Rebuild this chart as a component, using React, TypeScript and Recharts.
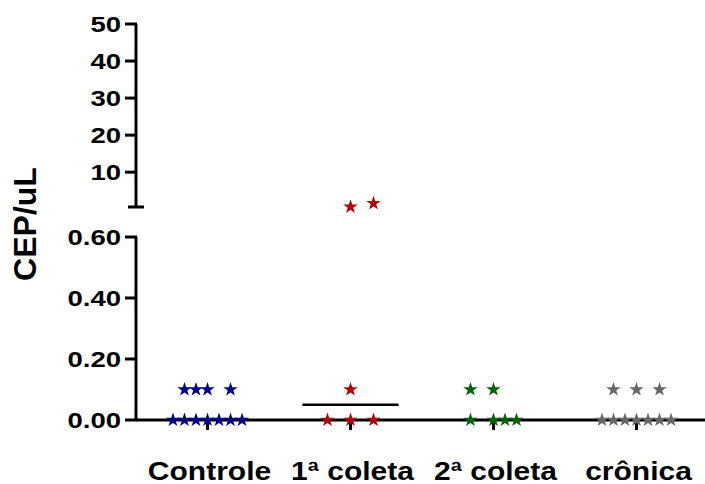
import { ScatterChart, Scatter, XAxis, YAxis, ZAxis, ReferenceLine } from 'recharts'

// ── data ──────────────────────────────────────────────────
const categories = ['Controle', '1ª coleta', '2ª coleta', 'crônica']
const colors = ['#00008b', '#b00000', '#006400', '#666666']

// values (CEP/uL) and the horizontal jitter slot of each star
const controleValues = [0, 0, 0, 0, 0, 0, 0, 0.1, 0.1, 0.1, 0.1]
const controleSlots = [-3, -2, -1, 0, 1, 2, 3, -2, -1, 0, 2]
const coleta1Values = [0, 0, 0, 0.1, 0.65, 1.6]
const coleta1Slots = [-2, 0, 2, 0, 0, 2]
const coleta2Values = [0, 0, 0, 0, 0.1, 0.1]
const coleta2Slots = [-2, 0, 1, 2, -2, 0]
const cronicaValues = [0, 0, 0, 0, 0, 0, 0, 0.1, 0.1, 0.1]
const cronicaSlots = [-3, -2, -1, 0, 1, 2, 3, -2, 0, 2]

const lowerTicks = [0, 0.2, 0.4, 0.6]
const upperTicks = [0.6, 10, 20, 30, 40, 50]
const BREAK = 0.6 // lower segment ends, upper segment starts

// ── layout ───────────────────────────────────────────────
const W = 708
const H = 484
const SLOT = 0.0805 // jitter step in category units
const MEDIAN_HALF = 0.336
const STAR = 72
const FONT = '"Liberation Sans", Arial, Helvetica, sans-serif'

const groups = [
  { values: controleValues, slots: controleSlots },
  { values: coleta1Values, slots: coleta1Slots },
  { values: coleta2Values, slots: coleta2Slots },
  { values: cronicaValues, slots: cronicaSlots },
].map((g, i) => ({
  idx: i,
  name: categories[i],
  color: colors[i],
  points: g.values.map((v, j) => ({ x: i + g.slots[j] * SLOT, y: v })),
  median: median(g.values),
}))

function median(vs: number[]): number {
  const s = [...vs].sort((a, b) => a - b)
  const m = Math.floor(s.length / 2)
  return s.length % 2 ? s[m] : (s[m - 1] + s[m]) / 2
}

const TICK_SIZE = 8
const TICK_MARGIN = 4

// draws its own tick line so the break cap can reach past the axis
function YTick(props: any) {
  const { x, y, payload, cap } = props
  const axisX = x + TICK_SIZE + TICK_MARGIN
  if (cap && payload.value === BREAK) {
    return <line x1={axisX - 8} x2={axisX + 8} y1={y} y2={y} stroke="#000" strokeWidth={3} />
  }
  const v: number = payload.value
  const label = cap ? String(v) : v.toFixed(2)
  return (
    <g>
      <line x1={axisX - 11} x2={axisX + 1} y1={y} y2={y} stroke="#000" strokeWidth={3} />
      <text
        transform={`translate(${axisX - 15},${y}) scale(1.25,1)`}
        textAnchor="end"
        dy="0.36em"
        fontFamily={FONT}
        fontWeight="bold"
        fontSize={22}
        fill="#000"
      >
        {label}
      </text>
    </g>
  )
}

function XTick(props: any) {
  const { x, y, payload } = props
  return (
    <text
      transform={`translate(${x + 2},${y + 48}) scale(1.2,1)`}
      textAnchor="middle"
      fontFamily={FONT}
      fontWeight="bold"
      fontSize={25}
      fill="#000"
    >
      {categories[payload.value]}
    </text>
  )
}

const axisStroke = { stroke: '#000', strokeWidth: 3 }

export default function App() {
  return (
    <div style={{ position: 'absolute', left: 0, top: 0, width: 705, height: H, overflow: 'hidden', background: '#fff' }}>
      {/* lower segment 0 – 0.60 with the category axis */}
      <div style={{ position: 'absolute', left: 0, top: 0 }}>
        <ScatterChart width={W} height={H} margin={{ top: 237, right: 0, bottom: 0, left: 0 }}>
          <XAxis
            type="number"
            dataKey="x"
            domain={[-0.5, 3.5]}
            ticks={[0, 1, 2, 3]}
            interval={0}
            height={64}
            axisLine={axisStroke}
            tickLine={axisStroke}
            tickSize={10}
            tick={<XTick />}
          />
          <YAxis
            type="number"
            dataKey="y"
            domain={[0, BREAK]}
            ticks={lowerTicks}
            width={136}
            axisLine={axisStroke}
            tickLine={false}
            tickSize={TICK_SIZE}
            tickMargin={TICK_MARGIN}
            tick={<YTick />}
          />
          <ZAxis range={[STAR, STAR]} />
          {groups.filter(g => g.median > 0).map(g => (
            <ReferenceLine
              key={'m' + g.name}
              segment={[
                { x: g.idx - MEDIAN_HALF, y: g.median },
                { x: g.idx + MEDIAN_HALF, y: g.median },
              ]}
              stroke="#000"
              strokeWidth={2.5}
            />
          ))}
          {groups.map(g => (
            <Scatter
              key={g.name}
              name={g.name}
              data={g.points.filter(p => p.y <= BREAK)}
              fill={g.color}
              shape="star"
              isAnimationActive={false}
            />
          ))}
        </ScatterChart>
      </div>

      {/* upper segment 0.60 – 50 */}
      <div style={{ position: 'absolute', left: 0, top: 0 }}>
        <ScatterChart width={W} height={220} margin={{ top: 24, right: 0, bottom: 13, left: 0 }}>
          <XAxis type="number" dataKey="x" domain={[-0.5, 3.5]} hide />
          <YAxis
            type="number"
            dataKey="y"
            domain={[BREAK, 50]}
            ticks={upperTicks}
            width={136}
            axisLine={axisStroke}
            tickLine={false}
            tickSize={TICK_SIZE}
            tickMargin={TICK_MARGIN}
            tick={<YTick cap />}
          />
          <ZAxis range={[STAR, STAR]} />
          {groups.map(g => (
            <Scatter
              key={g.name}
              name={g.name}
              data={g.points.filter(p => p.y > BREAK)}
              fill={g.color}
              shape="star"
              isAnimationActive={false}
            />
          ))}
        </ScatterChart>
      </div>

      {/* y axis title spanning both segments */}
      <svg width={705} height={H} style={{ position: 'absolute', left: 0, top: 0, pointerEvents: 'none' }}>
        <text
          transform="translate(36,224) rotate(-90)"
          textAnchor="middle"
          fontFamily={FONT}
          fontWeight="bold"
          fontSize={32}
          fill="#000"
        >
          CEP/uL
        </text>
      </svg>
    </div>
  )
}
